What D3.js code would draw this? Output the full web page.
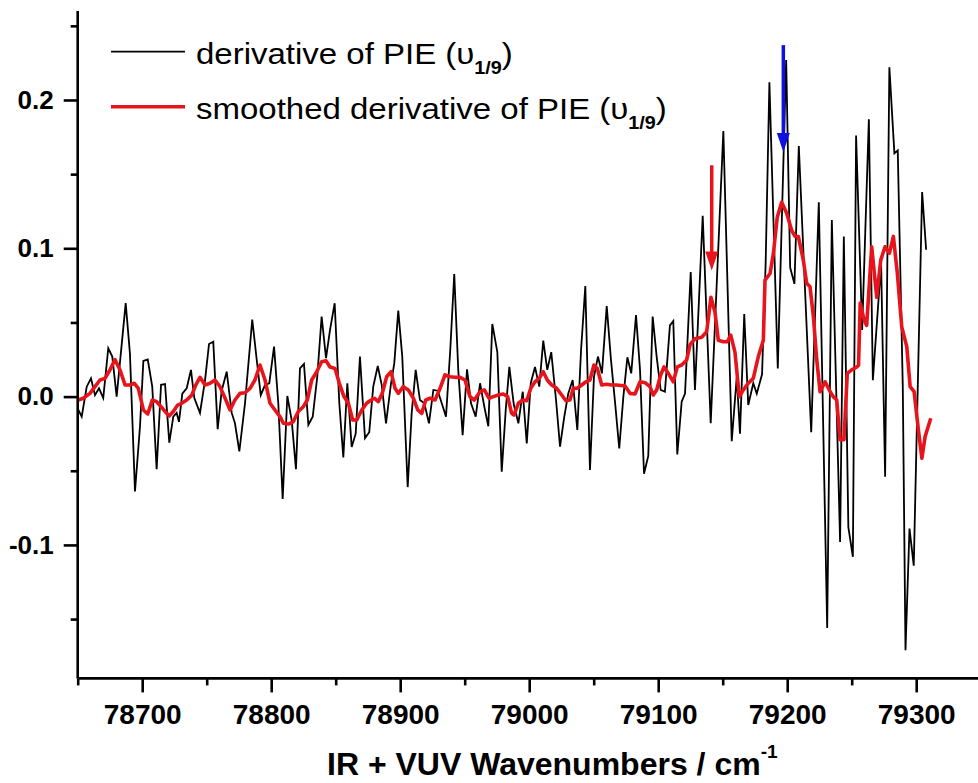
<!DOCTYPE html>
<html><head><meta charset="utf-8">
<script src="https://cdn.jsdelivr.net/npm/d3@7/dist/d3.min.js"></script>
<style>
html,body{margin:0;padding:0;background:#fff;}
svg{display:block;}
</style></head>
<body>
<svg id="chart" width="978" height="783"></svg>
<script>
// ---- data ----
const rawWave = [78650.5,78653.1,78657.0,78660.3,78663.4,78666.5,78669.8,78673.7,78676.8,78680.2,78687.2,78690.5,78694.4,78698.3,78700.9,78704.3,78707.8,78711.2,78714.6,78717.7,78721.0,78724.1,78726.7,78728.5,78731.1,78734.5,78737.8,78740.4,78744.8,78748.7,78751.8,78755.1,78758.5,78761.6,78765.5,78769.4,78771.9,78775.3,78779.7,78785.3,78788.8,78791.9,78795.2,78798.5,78802.2,78805.5,78808.9,78812.5,78815.9,78819.2,78822.3,78825.4,78828.8,78832.2,78835.7,78839.1,78842.5,78845.6,78849.2,78852.8,78855.9,78859.0,78862.4,78865.5,78868.8,78872.7,78876.0,78879.1,78882.6,78885.7,78889.0,78892.9,78895.4,78898.5,78901.6,78905.8,78908.9,78912.0,78915.3,78918.7,78922.3,78925.7,78929.1,78932.2,78935.5,78938.8,78941.9,78945.0,78948.4,78951.8,78954.9,78958.5,78961.9,78965.2,78968.3,78971.4,78975.3,78978.7,78981.8,78984.6,78988.0,78991.6,78995.0,78998.1,79001.2,79004.5,79007.8,79010.9,79014.0,79017.1,79020.8,79023.9,79027.2,79030.3,79033.7,79037.3,79040.2,79043.5,79047.1,79050.2,79053.3,79056.4,79060.1,79063.4,79066.5,79069.8,79073.0,79076.1,79079.1,79082.8,79085.9,79089.0,79092.3,79095.7,79098.8,79101.9,79105.2,79109.1,79111.7,79114.8,79118.2,79120.8,79125.2,79128.5,79134.5,79140.7,79150.5,79157.0,79160.9,79163.4,79166.7,79169.8,79173.7,79176.4,79180.5,79183.3,79186.2,79192.7,79199.2,79202.3,79205.6,79209.0,79218.6,79224.5,79231.0,79234.6,79241.0,79243.9,79247.4,79250.9,79253.4,79258.1,79263.3,79266.4,79272.8,79275.9,79279.2,79283.1,79285.7,79289.6,79291.7,79294.8,79298.1,79304.6,79307.7];
const rawDeriv = [-0.009,-0.0135,0.0067,0.0123,0.001,0.0056,-0.001,0.0326,0.027,0.0,0.063,0.029,-0.064,-0.020,0.024,0.025,0.0067,-0.049,0.008,0.0085,-0.031,-0.0135,-0.011,-0.017,0.002,0.0056,0.018,-0.001,-0.011,0.011,0.0355,0.037,-0.022,0.004,0.0168,-0.011,-0.018,-0.037,-0.0045,0.052,0.0247,0.001,0.0078,0.009,0.0337,-0.0045,-0.069,0.0004,-0.016,-0.049,0.019,0.022,-0.019,-0.0135,0.0134,0.054,0.026,0.045,0.063,-0.0045,-0.041,0.009,-0.034,-0.025,0.027,-0.028,-0.024,0.0067,0.0206,0.0078,-0.018,0.009,0.0224,0.058,0.027,-0.061,-0.011,0.018,-0.0023,-0.0045,-0.018,0.0045,0.004,-0.0045,-0.0135,0.0314,0.0827,0.018,-0.026,0.0184,-0.0045,-0.0135,0.009,-0.0068,-0.020,0.049,0.030,-0.0506,-0.009,0.020,-0.005,-0.018,0.0033,-0.0315,0.009,0.020,0.0067,0.0377,0.018,0.030,-0.0023,-0.0338,-0.0135,0.0022,0.0112,-0.0225,0.0314,0.0746,-0.0495,0.0134,0.027,0.0157,0.061,0.0247,-0.0034,-0.035,0.0,0.0265,0.0157,0.055,0.018,-0.052,-0.040,0.054,0.027,0.0045,0.0033,0.048,0.051,-0.039,-0.0034,0.002,0.084,0.0045,0.122,-0.018,0.179,-0.030,0.0134,-0.025,0.0557,-0.0057,0.009,0.002,0.015,0.09,0.212,0.019,0.227,0.087,0.076,0.169,-0.024,0.131,-0.156,0.119,-0.098,0.108,-0.088,-0.108,0.176,0.045,0.187,0.011,0.090,-0.054,0.222,0.164,0.166,0.0067,-0.171,-0.089,-0.114,0.138,0.099];

const smoothWave = [78650.5,78654.3,78659.5,78663.4,78667.3,78671.2,78675.0,78678.9,78682.8,78686.7,78690.5,78693.9,78697.0,78700.9,78704.3,78707.8,78711.2,78714.6,78717.7,78721.0,78724.1,78727.5,78730.6,78734.5,78738.4,78741.5,78744.8,78748.7,78752.6,78756.4,78760.3,78764.2,78768.1,78771.9,78775.8,78779.7,78783.6,78787.4,78791.3,78795.2,78799.1,78802.9,78806.8,78809.4,78813.3,78817.1,78821.0,78824.9,78828.0,78831.4,78835.3,78839.1,78842.5,78845.6,78849.5,78852.8,78856.4,78859.8,78863.2,78866.3,78870.2,78874.0,78876.6,78879.9,78883.0,78886.1,78889.5,78892.9,78896.0,78898.5,78902.4,78906.3,78910.2,78913.6,78916.7,78919.8,78923.1,78927.0,78930.9,78934.7,78938.6,78942.5,78946.4,78950.2,78954.1,78957.4,78961.9,78965.2,78968.8,78972.2,78976.0,78979.9,78983.3,78986.4,78988.2,78991.6,78995.0,78998.1,79001.2,79004.5,79007.8,79010.9,79014.0,79017.4,79021.3,79025.2,79028.5,79031.6,79034.2,79037.3,79040.7,79044.0,79047.1,79050.2,79052.8,79056.2,79060.1,79064.0,79067.8,79074.3,79078.1,79082.0,79085.9,79089.8,79093.6,79096.2,79098.8,79101.9,79104.5,79107.8,79111.7,79114.8,79118.2,79122.1,79124.7,79128.5,79133.7,79137.6,79140.9,79144.0,79146.6,79150.5,79153.6,79156.2,79159.5,79162.9,79166.0,79169.8,79173.7,79177.6,79181.5,79182.8,79186.7,79189.3,79192.3,79195.7,79199.6,79203.5,79206.1,79208.6,79212.5,79215.1,79217.7,79220.3,79222.9,79225.5,79229.4,79233.3,79235.7,79238.4,79240.9,79244.0,79246.6,79250.0,79253.9,79255.3,79256.6,79259.6,79261.6,79265.5,79269.4,79272.5,79275.8,79279.2,79282.3,79285.4,79288.8,79292.7,79295.3,79298.4,79301.7,79304.4,79306.9,79311.3];
const smoothDeriv = [-0.0023,-0.0011,0.0022,0.0067,0.0112,0.0123,0.018,0.025,0.018,0.0078,0.0078,0.009,0.0056,-0.009,-0.0117,-0.0023,-0.0034,-0.0068,-0.010,-0.013,-0.010,-0.0057,-0.0045,-0.0023,0.001,0.0078,0.013,0.0078,0.009,0.0112,0.0067,-0.001,-0.009,-0.0023,0.0022,0.0026,0.0056,0.0112,0.0213,0.0112,-0.0045,-0.009,-0.0135,-0.018,-0.0185,-0.017,-0.010,-0.0068,-0.0023,0.0112,0.0168,0.0235,0.0242,0.020,0.019,0.009,0.0,-0.0045,-0.0158,-0.0158,-0.009,-0.0045,-0.0028,-0.0011,-0.0034,0.0022,0.0134,0.0168,0.0056,0.0022,0.0067,0.0045,-0.0011,-0.009,-0.0113,-0.0023,-0.0011,-0.0023,0.0056,0.0146,0.0134,0.013,0.013,0.0112,0.0,-0.0023,0.0033,0.0045,-0.0011,0.0,0.0011,0.0018,0.0,-0.0113,-0.0124,-0.0045,-0.0023,-0.0028,0.0056,0.010,0.0123,0.0168,0.0112,0.0078,0.0056,0.0011,-0.0028,-0.0023,0.0056,0.0056,0.0078,0.010,0.0112,0.0213,0.019,0.0078,0.0083,0.0078,0.0078,0.0071,0.0022,0.0018,0.010,0.0094,0.0067,0.0011,0.0045,0.0146,0.020,0.0157,0.010,0.020,0.0213,0.0247,0.035,0.039,0.040,0.0438,0.067,0.057,0.038,0.037,0.037,0.0415,0.030,0.0,0.0045,0.009,0.0123,0.027,0.038,0.0786,0.083,0.0966,0.121,0.131,0.1236,0.112,0.108,0.108,0.092,0.0764,0.074,0.054,0.025,0.0033,0.010,0.0033,0.0,-0.0023,-0.029,-0.029,0.0157,0.018,0.020,0.021,0.063,0.0517,0.048,0.101,0.067,0.092,0.101,0.0966,0.108,0.083,0.047,0.0337,0.0067,0.0033,-0.0225,-0.0416,-0.027,-0.0146];

const xMajorTicks = [78700,78800,78900,79000,79100,79200,79300];
const xMinorTicks = [78650,78750,78850,78950,79050,79150,79250,79350];
const yMajorTicks = [-0.1,0.0,0.1,0.2];
const yMinorTicks = [-0.15,-0.05,0.05,0.15,0.25];
const yTickLabels = ["-0.1","0.0","0.1","0.2"];
const legendLabels = ["derivative of PIE (\u03C5", "smoothed derivative of PIE (\u03C5"];
const legendSub = "1/9";
// arrows: [wavenumber, from value, to value]
const redArrow = [79141.5, 0.156, 0.085];
const blueArrow = [79197, 0.237, 0.165];

// ---- drawing ----
const svg = d3.select("#chart");
const x = d3.scaleLinear().domain([78650, 79350]).range([77.7, 980.7]);
const y = d3.scaleLinear().domain([-0.19, 0.26]).range([678.4, 11]);
const FONT = "'Liberation Sans', Arial, Helvetica, sans-serif";

const black = rawWave.map((w,i)=>[w, rawDeriv[i]]);
const red = smoothWave.map((w,i)=>[w, smoothDeriv[i]]);
const line = d3.line().x(d=>x(d[0])).y(d=>y(d[1]));

svg.append("path").datum(black).attr("d", line)
  .attr("fill","none").attr("stroke","#000").attr("stroke-width",1.8).attr("stroke-linejoin","miter");
svg.append("path").datum(red).attr("d", line)
  .attr("fill","none").attr("stroke","#e8141b").attr("stroke-width",3.6).attr("stroke-linejoin","round");

// axes
const gx = svg.append("g").attr("transform",`translate(0,${y(-0.19)})`);
gx.call(d3.axisBottom(x).tickValues(xMajorTicks).tickSize(14).tickPadding(12).tickFormat(d3.format("d")));
const gxm = svg.append("g").attr("transform",`translate(0,${y(-0.19)})`);
gxm.call(d3.axisBottom(x).tickValues(xMinorTicks).tickSize(7).tickFormat(""));
const gy = svg.append("g").attr("transform",`translate(${x(78650)},0)`);
gy.call(d3.axisLeft(y).tickValues(yMajorTicks).tickSize(14).tickPadding(10).tickFormat((d,i)=>yTickLabels[i]));
const gym = svg.append("g").attr("transform",`translate(${x(78650)},0)`);
gym.call(d3.axisLeft(y).tickValues(yMinorTicks).tickSize(7).tickFormat(""));

svg.selectAll(".domain").attr("stroke","#000").attr("stroke-width",2.6);
svg.selectAll(".tick line").attr("stroke","#000").attr("stroke-width",2.6);
gx.selectAll(".domain").attr("d", `M${x(78650)},0H978`);
gxm.selectAll(".domain").remove();
gym.selectAll(".domain").remove();
gy.selectAll(".domain").attr("d", `M0,${y(0.26)}V${y(-0.19)}`);
gx.selectAll(".tick text").attr("font-family",FONT).attr("font-weight","bold").attr("font-size",28).attr("fill","#000");
gy.selectAll(".tick text").attr("font-family",FONT).attr("font-weight","bold").attr("font-size",26).attr("fill","#000");

// axis title
const title = svg.append("text").attr("x", 327).attr("y", 775)
  .attr("text-anchor","start").attr("font-family",FONT).attr("font-weight","bold").attr("font-size",32).attr("fill","#000");
title.append("tspan").text("IR + VUV Wavenumbers / cm");
title.append("tspan").attr("dy",-17).attr("font-size",19).text("-1");

// legend
const legColors = ["#000","#e8141b"];
const legWidths = [1.8,3.6];
legendLabels.forEach((lab,i)=>{
  const ly = 51.7 + i*55;
  svg.append("line").attr("x1",111).attr("x2",185).attr("y1",ly).attr("y2",ly)
    .attr("stroke",legColors[i]).attr("stroke-width",legWidths[i]);
  const t = svg.append("text").attr("transform",`translate(196,${ly+12}) scale(1.1,1)`)
    .attr("font-family",FONT).attr("font-size",30).attr("fill","#000");
  t.append("tspan").text(lab);
  t.append("tspan").attr("dy",10).attr("font-size",18).attr("font-weight","bold").text(legendSub);
  t.append("tspan").attr("dy",-10).text(")");
});

// arrows
function arrow(a, color){
  const xa = x(a[0]), y1 = y(a[1]), y2 = y(a[2]);
  svg.append("line").attr("x1",xa).attr("x2",xa).attr("y1",y1).attr("y2",y2-14)
    .attr("stroke",color).attr("stroke-width",3.5);
  svg.append("path").attr("d",`M${xa-6.5},${y2-19}L${xa+6.5},${y2-19}L${xa},${y2}Z`).attr("fill",color);
}
arrow(redArrow, "#e8141b");
arrow(blueArrow, "#1010e0");
</script>
</body></html>
